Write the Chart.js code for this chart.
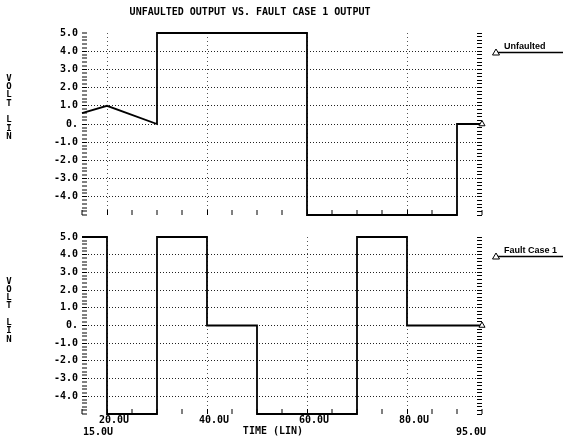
<!DOCTYPE html>
<html>
<head>
<meta charset="utf-8">
<script src="https://cdn.jsdelivr.net/npm/chart.js@4.4.1/dist/chart.umd.min.js"></script>
<style>
body { margin: 0; background: #fff; }
#wrap { position: relative; width: 563px; height: 438px; }
canvas { position: absolute; left: 0; }
#topChart { top: 0; }
#botChart { top: 222px; }
</style>
</head>
<body>
<div id="wrap">
<canvas id="topChart" width="563" height="230"></canvas>
<canvas id="botChart" width="563" height="216"></canvas>
</div>
<script>
const chartTitle = '   UNFAULTED OUTPUT VS. FAULT CASE 1 OUTPUT';
const unfaultedTime = [15, 20, 30, 30, 60, 60, 90, 90, 95];
const unfaultedVolt = [0.6, 1.0, 0, 5, 5, -5, -5, 0, 0];
const faultTime = [15, 20, 20, 30, 30, 40, 40, 50, 50, 70, 70, 80, 80, 95];
const faultVolt = [5, 5, -5, -5, 5, 5, 0, 0, -5, -5, 5, 5, 0, 0];
const voltTicks = [5, 4, 3, 2, 1, 0, -1, -2, -3, -4];
const voltTickLabels = ['5.0', '4.0', '3.0', '2.0', '1.0', '0.', '-1.0', '-2.0', '-3.0', '-4.0'];
const timeTicks = [15, 20, 40, 60, 80, 95];
const timeTickLabels = [['', '   15.0U'], '20.0U', '40.0U', '60.0U', '80.0U', ['', '95.0U      ']];
const timeGrid = [20, 40, 60, 80];

const MONO = '"DejaVu Sans Mono", monospace';
Chart.defaults.font.family = MONO;
Chart.defaults.font.weight = 'bold';
Chart.defaults.color = '#000';

function toPoints(xs, ys) {
    return xs.map((x, i) => ({ x: x, y: ys[i] }));
}

// ruler ticks every 0.2 V along both side edges
function rulerTicks(scale) {
    const t = [];
    for (let i = -25; i <= 25; i++) t.push({ value: i / 5 });
    scale.ticks = t;
}

function voltLabel(v) {
    const i = voltTicks.findIndex(t => Math.abs(t - v) < 1e-6);
    return i >= 0 ? voltTickLabels[i] : '';
}

const sidePlugin = {
    id: 'side',
    afterDraw(chart) {
        const ctx = chart.ctx;
        const y = chart.scales.y;
        ctx.save();
        ctx.fillStyle = '#000';
        ctx.font = 'bold 9px ' + MONO;
        ctx.textAlign = 'center';
        ctx.textBaseline = 'middle';
        'VOLT LIN'.split('').forEach((ch, i) => {
            ctx.fillText(ch, 9, y.getPixelForValue(2.5) + i * 8.3);
        });
        // legend entry: label over a line with a triangle marker
        const ly = Math.round(y.getPixelForValue(4)) + 1.5;
        ctx.strokeStyle = '#000';
        ctx.lineWidth = 1.6;
        ctx.beginPath();
        ctx.moveTo(497, ly);
        ctx.lineTo(563, ly);
        ctx.stroke();
        ctx.lineWidth = 1;
        ctx.fillStyle = '#fff';
        ctx.beginPath();
        ctx.moveTo(496, ly - 3.5);
        ctx.lineTo(499.5, ly + 2.5);
        ctx.lineTo(492.5, ly + 2.5);
        ctx.closePath();
        ctx.fill();
        ctx.stroke();
        ctx.fillStyle = '#000';
        ctx.font = 'bold 9px "Liberation Sans", Arial, sans-serif';
        ctx.textAlign = 'left';
        ctx.textBaseline = 'alphabetic';
        ctx.fillText(chart.data.datasets[0].label, 504, ly - 4);
        ctx.restore();
    }
};

function makeChart(id, label, xs, ys, isBottom) {
    const ctx = document.getElementById(id).getContext('2d');
    return new Chart(ctx, {
        type: 'line',
        data: {
            datasets: [{
                label: label,
                data: toPoints(xs, ys),
                borderColor: '#000',
                borderWidth: 1.8,
                tension: 0,
                clip: 8,
                pointStyle: 'triangle',
                pointRadius: c => c.dataIndex === xs.length - 1 ? 3.5 : 0,
                pointHoverRadius: 0,
                pointBackgroundColor: '#fff',
                pointBorderColor: '#000',
                pointBorderWidth: 1
            }]
        },
        options: {
            responsive: false,
            animation: false,
            events: [],
            layout: { padding: { left: 0, right: 81, top: isBottom ? 10 : 0, bottom: isBottom ? 0 : 8 } },
            plugins: {
                legend: { display: false },
                tooltip: { enabled: false },
                title: {
                    display: !isBottom,
                    text: chartTitle,
                    font: { size: 10, weight: 'bold', family: MONO },
                    color: '#000',
                    padding: { top: 6, bottom: 15 }
                }
            },
            scales: {
                x: {
                    type: 'linear',
                    min: 15,
                    max: 95,
                    ticks: {
                        display: isBottom,
                        stepSize: 5,
                        autoSkip: false,
                        maxRotation: 0,
                        padding: 5,
                        labelOffset: 7,
                        font: { size: 10, weight: 'bold' },
                        callback: v => {
                            const i = timeTicks.indexOf(v);
                            return i >= 0 ? timeTickLabels[i] : '';
                        }
                    },
                    grid: {
                        color: '#555',
                        lineWidth: c => c.tick && timeGrid.includes(c.tick.value) ? 1 : 0,
                        tickColor: '#000',
                        tickLength: -5,
                        tickWidth: 1
                    },
                    border: { display: false, dash: [1, 3] },
                    title: {
                        display: isBottom,
                        text: 'TIME (LIN)   ',
                        font: { size: 10, weight: 'bold' },
                        padding: { top: 0, bottom: 1 }
                    },
                    afterFit: s => { s.height = isBottom ? 24 : 0; }
                },
                y: {
                    min: -5,
                    max: 5,
                    afterBuildTicks: rulerTicks,
                    ticks: {
                        autoSkip: false,
                        padding: 9,
                        font: { size: 10, weight: 'bold' },
                        callback: voltLabel
                    },
                    grid: {
                        color: '#222',
                        lineWidth: c => {
                            const v = c.tick ? c.tick.value : 99;
                            return Math.abs(v - Math.round(v)) < 1e-6 && Math.abs(v) < 4.5 ? 1 : 0;
                        },
                        tickColor: '#000',
                        tickLength: -5,
                        tickWidth: 1
                    },
                    border: { display: false, dash: [1, 2] },
                    afterFit: s => { s.width = 82; }
                },
                yr: {
                    position: 'right',
                    min: -5,
                    max: 5,
                    afterBuildTicks: rulerTicks,
                    ticks: { display: false },
                    grid: { drawOnChartArea: false, tickColor: '#000', tickLength: -5, tickWidth: 1 },
                    border: { display: false },
                    afterFit: s => { s.width = 0; }
                }
            }
        },
        plugins: [sidePlugin]
    });
}

makeChart('topChart', 'Unfaulted', unfaultedTime, unfaultedVolt, false);
makeChart('botChart', 'Fault Case 1', faultTime, faultVolt, true);
</script>
</body>
</html>
